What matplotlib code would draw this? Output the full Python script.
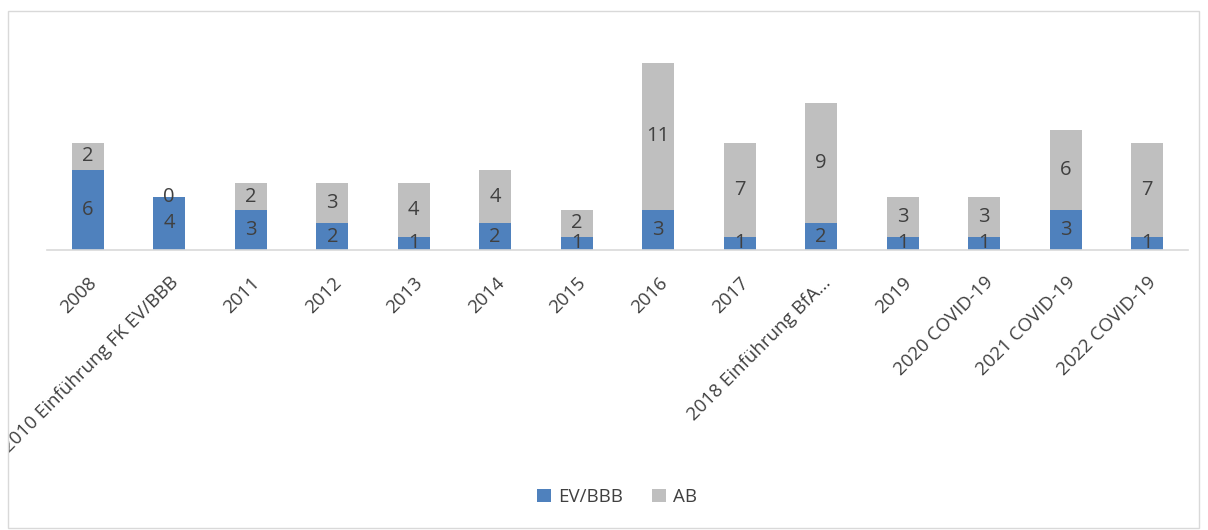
import matplotlib.pyplot as plt
from matplotlib.patches import Rectangle
from matplotlib.transforms import Bbox

# Daten
labels = ['2008', '2010 Einführung FK EV/BBB', '2011', '2012', '2013', '2014', '2015',
          '2016', '2017', '2018 Einführung BfA...', '2019', '2020 COVID-19',
          '2021 COVID-19', '2022 COVID-19']
ev_bbb = [6, 4, 3, 2, 1, 2, 1, 3, 1, 2, 1, 1, 3, 1]
ab = [2, 0, 2, 3, 4, 4, 2, 11, 7, 9, 3, 3, 6, 7]

blue = '#4F81BD'
grey = '#BFBFBF'
txt = '#404040'

plt.rcParams['font.family'] = ['Open Sans', 'DejaVu Sans']

fig = plt.figure(figsize=(12.08, 5.30), dpi=100)
ax = fig.add_axes([47 / 1208, 280 / 530, 1141 / 1208, 214 / 530])

# Rahmen um das Diagramm
frame = Rectangle((8 / 1208, 2 / 530), 1191 / 1208, 517 / 530, transform=fig.transFigure,
                  fill=False, edgecolor='#D9D9D9', linewidth=1)
fig.patches.append(frame)

x = range(len(labels))
b1 = ax.bar(x, ev_bbb, width=0.39, color=blue, label='EV/BBB')
b2 = ax.bar(x, ab, width=0.39, bottom=ev_bbb, color=grey, label='AB')

for i in x:
    ax.text(i, ev_bbb[i] / 2, str(ev_bbb[i]), ha='center', va='center', fontsize=14.5, color=txt)
    ax.text(i, ev_bbb[i] + ab[i] / 2, str(ab[i]), ha='center', va='center', fontsize=14.5, color=txt)

ax.set_xlim(-0.5, len(labels) - 0.5)
ax.set_ylim(0, 16)
ax.set_yticks([])
for s in ['top', 'right', 'left']:
    ax.spines[s].set_visible(False)
ax.spines['bottom'].set_color('#D9D9D9')
ax.spines['bottom'].set_linewidth(1.2)

ax.set_xticks(list(x))
ax.set_xticklabels(labels, rotation=45, ha='right', rotation_mode='anchor',
                   fontsize=13.5, color=txt)
ax.tick_params(axis='x', length=0, pad=17)

fig.canvas.draw()
clip = Bbox.from_extents(9, 0, 1200, 530)
for t in ax.get_xticklabels():
    t.set_clip_box(clip)
    t.set_clip_on(True)

fig.legend(handles=[b1, b2], loc='center', bbox_to_anchor=(617 / 1208, 33 / 530), ncol=2,
           frameon=False, fontsize=13.5, labelcolor=txt, handlelength=0.75, handleheight=0.75,
           handletextpad=0.4, columnspacing=1.5)

fig.savefig('out.png', dpi=100)
